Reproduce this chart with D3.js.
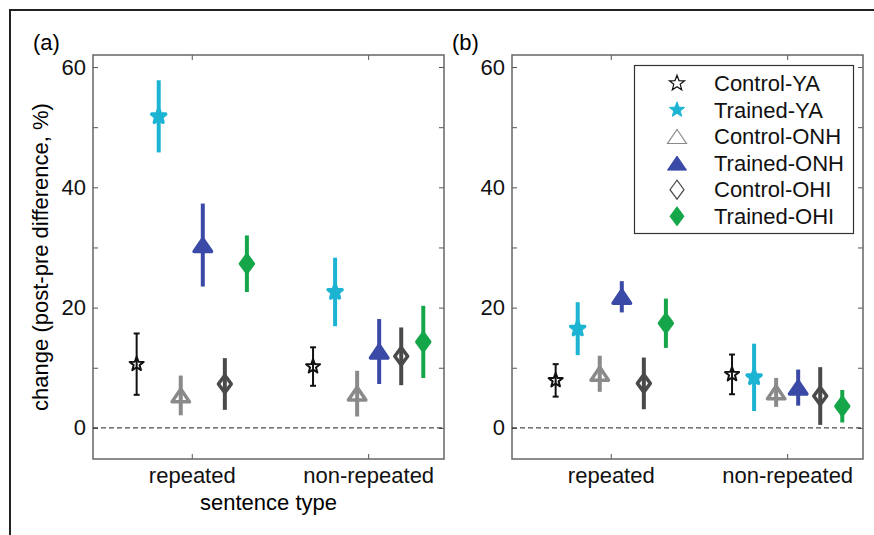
<!DOCTYPE html>
<meta charset="utf-8">
<script src="https://d3js.org/d3.v7.min.js"></script>
<style>
  body { margin: 0; background: #fff; }
  text { font-family: "Liberation Sans", Arial, sans-serif; }
</style>
<div id="my_dataviz"></div>

<script>

// categories and groups
var categories = ["repeated", "non-repeated"]
var groups = ["Control-YA", "Trained-YA", "Control-ONH", "Trained-ONH", "Control-OHI", "Trained-OHI"]

// panel (a): means and half-widths of the error bars (%)
var aRepMean = [10.6, 51.8, 5.4, 30.4, 7.3, 27.3]
var aRepErr = [5.1, 6.0, 3.3, 6.9, 4.3, 4.7]
var aNonMean = [10.2, 22.6, 5.7, 12.7, 11.9, 14.3]
var aNonErr = [3.2, 5.7, 3.8, 5.4, 4.8, 6.0]

// panel (b)
var bRepMean = [7.9, 16.5, 9.0, 21.8, 7.4, 17.4]
var bRepErr = [2.7, 4.4, 3.0, 2.6, 4.3, 4.1]
var bNonMean = [8.9, 8.4, 5.9, 6.7, 5.3, 3.6]
var bNonErr = [3.3, 5.6, 2.4, 3.0, 4.8, 2.7]

var yTicks = [0, 10, 20, 30, 40, 50, 60]

// look of each group
var colors = ["#111111", "#1cb4d2", "#8a8a8a", "#3a4aa6", "#4a4a4a", "#16a64a"]
var shapes = ["star", "star", "tri", "tri", "dia", "dia"]
var filled = [false, true, false, true, false, true]

var width = 874, height = 535
var fs = 22

var svg = d3.select("#my_dataviz")
  .append("svg")
    .attr("width", width)
    .attr("height", height)

svg.append("rect").attr("width", width).attr("height", height).attr("fill", "#fff")

// outer frame of the figure
svg.append("path")
  .attr("d", "M10,535V10H874")
  .attr("fill", "none")
  .attr("stroke", "#222")
  .attr("stroke-width", 2)

// marker path builders
function starPath(r) {
  var pts = []
  for (var i = 0; i < 10; i++) {
    var rr = i % 2 == 0 ? r : r * 0.42
    var a = -Math.PI / 2 + i * Math.PI / 5
    pts.push([rr * Math.cos(a), rr * Math.sin(a)])
  }
  return "M" + pts.join("L") + "Z"
}
function triPath(w, h) {
  return "M0," + (-h / 2) + "L" + (w / 2) + "," + (h / 2) + "L" + (-w / 2) + "," + (h / 2) + "Z"
}
function diaPath(w, h) {
  return "M0," + (-h / 2) + "L" + (w / 2) + ",0L0," + (h / 2) + "L" + (-w / 2) + ",0Z"
}
function markerPath(i, big) {
  var s = big ? 1 : 0.92
  if (shapes[i] == "star") return starPath(8 * s)
  if (shapes[i] == "tri") return triPath(19 * s, 14 * s)
  return diaPath(14 * s, 19 * s)
}

var y = d3.scaleLinear().domain([-5.17, 62]).range([459, 55])

function drawPanel(left, label, repMean, repErr, nonMean, nonErr, showYLabel) {
  var x = d3.scaleLinear().domain([0.44, 2.43]).range([left, left + 351])
  var g = svg.append("g")

  // axes, ticks pointing inward
  g.append("g")
    .attr("transform", "translate(" + left + ",0)")
    .call(d3.axisLeft(y).tickValues(yTicks).tickSizeInner(-5).tickSizeOuter(0).tickPadding(7)
      .tickFormat(function(d){ return d % 20 == 0 ? d : "" }))
  g.append("g")
    .attr("transform", "translate(" + (left + 351) + ",0)")
    .call(d3.axisRight(y).tickValues(yTicks).tickSizeInner(-5).tickSizeOuter(0).tickFormat(""))
  g.append("g")
    .attr("transform", "translate(0,55)")
    .call(d3.axisTop(x).tickValues([1, 2]).tickSizeInner(-5).tickSizeOuter(0).tickFormat(""))
  g.append("g")
    .attr("transform", "translate(0,459)")
    .call(d3.axisBottom(x).tickValues([1, 2]).tickSizeInner(-5).tickSizeOuter(0).tickPadding(8)
      .tickFormat(function(d){ return categories[d - 1] }))

  g.selectAll(".domain").remove()
  g.selectAll(".tick line").attr("stroke", "#555")
  g.selectAll(".tick text").attr("font-size", fs).attr("fill", "#111")

  // plot box
  g.append("rect")
    .attr("x", left).attr("y", 55)
    .attr("width", 351).attr("height", 404)
    .attr("fill", "none")
    .attr("stroke", "#666")
    .attr("stroke-width", 1.5)

  // zero line
  g.append("line")
    .attr("x1", left).attr("x2", left + 351)
    .attr("y1", y(0)).attr("y2", y(0))
    .attr("stroke", "#222")
    .attr("stroke-dasharray", "5,3")

  // panel letter
  g.append("text")
    .attr("x", left - 60).attr("y", 50)
    .attr("font-size", fs)
    .text(label)

  // points: one record per group and category
  var pts = []
  groups.forEach(function(name, i) {
    pts.push({ i: i, cat: 1, m: repMean[i], e: repErr[i] })
    pts.push({ i: i, cat: 2, m: nonMean[i], e: nonErr[i] })
  })
  function px(d) { return x(d.cat + (d.i - 2.5) * 0.125) }

  g.selectAll("bars")
    .data(pts)
    .enter()
    .append("line")
      .attr("x1", px).attr("x2", px)
      .attr("y1", function(d){ return y(d.m - d.e) })
      .attr("y2", function(d){ return y(d.m + d.e) })
      .attr("stroke", function(d){ return colors[d.i] })
      .attr("stroke-width", function(d){ return d.i == 0 ? 2 : 4 })

  // small caps on the thin black bars
  var thin = pts.filter(function(d){ return d.i == 0 })
  ;[-1, 1].forEach(function(sgn) {
    g.selectAll("caps")
      .data(thin)
      .enter()
      .append("line")
        .attr("x1", function(d){ return px(d) - 3 })
        .attr("x2", function(d){ return px(d) + 3 })
        .attr("y1", function(d){ return y(d.m + sgn * d.e) })
        .attr("y2", function(d){ return y(d.m + sgn * d.e) })
        .attr("stroke", colors[0])
        .attr("stroke-width", 2)
  })

  g.selectAll("marks")
    .data(pts)
    .enter()
    .append("path")
      .attr("d", function(d){ return markerPath(d.i, false) })
      .attr("transform", function(d){ return "translate(" + px(d) + "," + y(d.m) + ")" })
      .attr("fill", function(d){ return filled[d.i] ? colors[d.i] : "none" })
      .attr("stroke", function(d){ return colors[d.i] })
      .attr("stroke-width", function(d){ return d.i == 0 ? 2 : 3.5 })
      .attr("stroke-linejoin", "round")

  if (showYLabel) {
    g.append("text")
      .attr("transform", "translate(48," + ((55 + 459) / 2) + ") rotate(-90)")
      .attr("text-anchor", "middle")
      .attr("font-size", fs)
      .text("change (post-pre difference, %)")
    g.append("text")
      .attr("x", left + 351 / 2).attr("y", 510)
      .attr("text-anchor", "middle")
      .attr("font-size", fs)
      .text("sentence type")
  }
}

drawPanel(93, "(a)", aRepMean, aRepErr, aNonMean, aNonErr, true)
drawPanel(512, "(b)", bRepMean, bRepErr, bNonMean, bNonErr, false)

// legend inside panel (b)
var leg = svg.append("g")
leg.append("rect")
  .attr("x", 634.5).attr("y", 65.5)
  .attr("width", 219).attr("height", 168)
  .attr("fill", "#fff")
  .attr("stroke", "#333")
  .attr("stroke-width", 1.2)

var rows = leg.selectAll("rows")
  .data(groups)
  .enter()
  .append("g")
    .attr("transform", function(d, i){ return "translate(0," + (83.3 + i * 26.6) + ")" })

rows.append("path")
  .attr("d", function(d, i){ return markerPath(i, true) })
  .attr("transform", "translate(677,0)")
  .attr("fill", function(d, i){ return filled[i] ? colors[i] : "none" })
  .attr("stroke", function(d, i){ return colors[i] })
  .attr("stroke-width", function(d, i){ return filled[i] ? 1 : 1.2 })

rows.append("text")
  .attr("x", 714)
  .attr("dy", "0.35em")
  .attr("font-size", fs)
  .attr("fill", "#111")
  .text(function(d){ return d })

</script>
